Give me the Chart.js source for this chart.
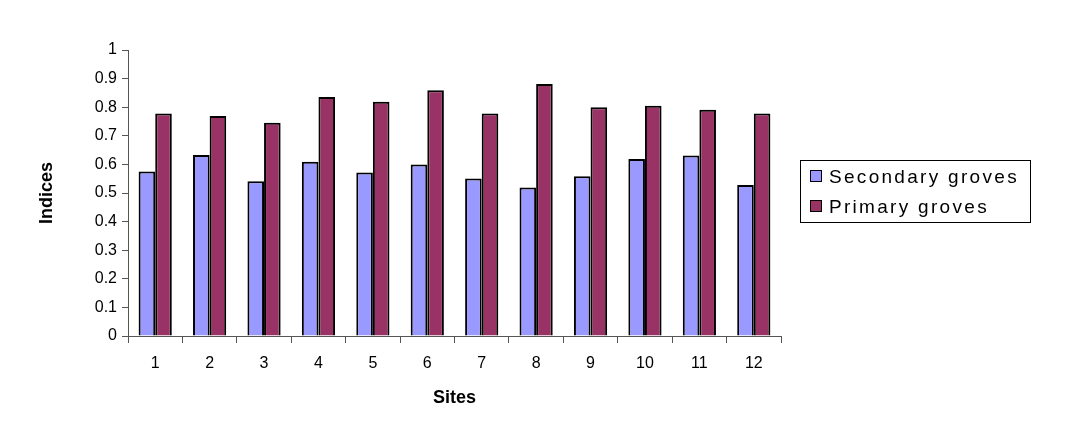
<!DOCTYPE html>
<html>
<head>
<meta charset="utf-8">
<script src="https://cdn.jsdelivr.net/npm/chart.js@4"></script>
<style>
  html, body { margin: 0; padding: 0; background: #fff; }
  #wrap { position: relative; width: 1065px; height: 421px; }
  #legend {
    position: absolute; left: 800px; top: 160px; width: 229px; height: 61px;
    border: 1px solid #000; font-family: Arial, "Liberation Sans", sans-serif;
    font-size: 19px; letter-spacing: 2.3px; color: #000;
  }
  #legend div { position: absolute; left: 9px; height: 22px; line-height: 22px; white-space: nowrap; }
  #legend span.sw {
    display: inline-block; width: 10px; height: 10px; border: 1.5px solid #000;
    margin-right: 7px; vertical-align: 1px;
  }
</style>
</head>
<body>
<div id="wrap">
  <canvas id="myChart" width="1065" height="421"></canvas>
  <div id="legend"></div>
</div>
<script>
const sites = ['1', '2', '3', '4', '5', '6', '7', '8', '9', '10', '11', '12'];
const secondaryGroves = [0.575, 0.633, 0.541, 0.609, 0.572, 0.600, 0.551, 0.519, 0.559, 0.619, 0.631, 0.528];
const primaryGroves = [0.778, 0.769, 0.746, 0.836, 0.819, 0.859, 0.778, 0.881, 0.800, 0.805, 0.791, 0.778];
const seriesNames = ['Secondary groves', 'Primary groves'];
const seriesColors = ['#9999FF', '#993366'];

const legend = document.getElementById('legend');
seriesNames.forEach((name, i) => {
    const row = document.createElement('div');
    row.style.top = (i === 0 ? 5 : 35) + 'px';
    row.innerHTML = '<span class="sw" style="background:' + seriesColors[i] + '"></span>' + name;
    legend.appendChild(row);
});

const font = "Arial, 'Liberation Sans', sans-serif";
const ctx = document.getElementById('myChart').getContext('2d');

new Chart(ctx, {
    type: 'bar',
    data: {
        labels: sites,
        datasets: [{
            label: seriesNames[0],
            data: secondaryGroves,
            backgroundColor: seriesColors[0],
            borderColor: '#000',
            borderWidth: 2,
            borderSkipped: 'bottom'
        }, {
            label: seriesNames[1],
            data: primaryGroves,
            backgroundColor: seriesColors[1],
            borderColor: '#000',
            borderWidth: 2,
            borderSkipped: 'bottom'
        }]
    },
    options: {
        responsive: false,
        animation: false,
        events: [],
        categoryPercentage: 0.61,
        barPercentage: 1.0,
        layout: { padding: { top: 50, right: 284, bottom: 8, left: 30 } },
        plugins: { legend: { display: false }, tooltip: { enabled: false } },
        scales: {
            x: {
                grid: { display: true, drawOnChartArea: false, offset: true, tickLength: 7, color: '#555', lineWidth: 1 },
                border: { color: '#555', width: 1 },
                ticks: { color: '#000', font: { family: font, size: 16 }, padding: 11 },
                title: { display: true, text: 'Sites', color: '#000', font: { family: font, size: 18, weight: 'bold' }, padding: { top: 6 } },
                afterFit: s => { s.height = 77; }
            },
            y: {
                min: 0, max: 1,
                grid: { display: true, drawOnChartArea: false, tickLength: 6, color: '#555', lineWidth: 1 },
                border: { color: '#555', width: 1 },
                ticks: { stepSize: 0.1, color: '#000', font: { family: font, size: 16 }, padding: 5,
                    callback: v => Math.round(v * 10) / 10 },
                title: { display: true, text: 'Indices', color: '#000', font: { family: font, size: 18, weight: 'bold' }, padding: { top: 6, bottom: 0 } },
                afterFit: s => { s.width = 98; }
            }
        }
    }
});
</script>
</body>
</html>
